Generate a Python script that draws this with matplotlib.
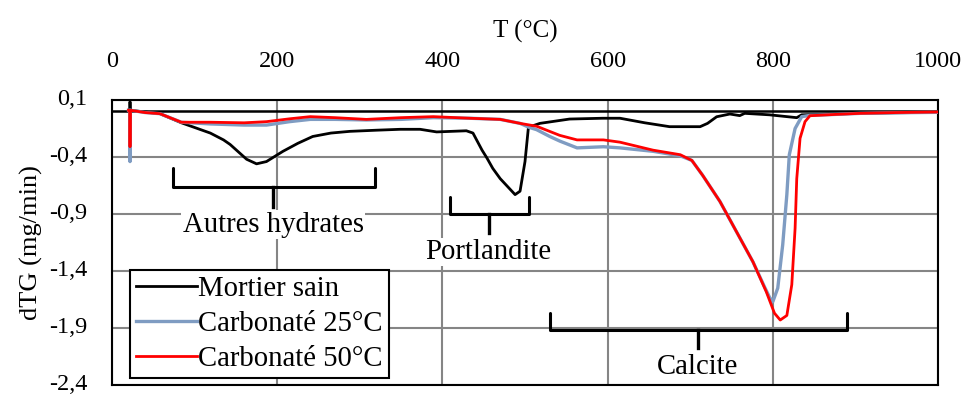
import matplotlib
matplotlib.use("Agg")
import matplotlib.pyplot as plt
from matplotlib.ticker import FixedLocator, FuncFormatter
from matplotlib.transforms import ScaledTranslation

# ---------------- data ----------------
t_sain = [20, 21.5, 21.8, 22.2, 40, 58, 84, 119, 135, 143, 163, 175, 187, 207, 225,
          243, 265, 288, 320, 349, 373, 393, 429, 437, 448, 454, 461, 470, 479, 488,
          494, 500, 504, 508, 518, 554, 594, 615, 645, 675, 712, 721, 732, 748, 760,
          766, 796, 829, 835, 870, 906, 950, 1000]
y_sain = [0.01, 0.01, 0.085, 0.01, -0.005, -0.02, -0.10, -0.19, -0.25, -0.29, -0.42, -0.46,
          -0.44, -0.35, -0.28, -0.22, -0.19, -0.175, -0.165, -0.157, -0.157, -0.18, -0.17,
          -0.19, -0.34, -0.41, -0.50, -0.59, -0.66, -0.73, -0.70, -0.44, -0.15, -0.13,
          -0.105, -0.067, -0.06, -0.06, -0.10, -0.134, -0.134, -0.105, -0.047, -0.023,
          -0.037, -0.017, -0.03, -0.055, -0.03, -0.024, -0.017, -0.012, -0.008]

t_c25 = [20, 21.5, 21.8, 22.2, 40, 58, 84, 119, 160, 187, 215, 240, 270, 308, 350, 389,
         433, 470, 494, 505, 514, 530, 542, 563, 595, 615, 655, 688, 702, 715, 736, 756,
         776, 790, 796, 800, 806, 812, 817, 820, 827, 835, 845, 877, 906, 950, 1000]
y_c25 = [0.01, 0.01, -0.44, 0.01, -0.01, -0.02, -0.095, -0.11, -0.12, -0.12, -0.09,
         -0.07, -0.07, -0.075, -0.07, -0.055, -0.06, -0.07, -0.105, -0.14, -0.16, -0.22,
         -0.26, -0.32, -0.31, -0.32, -0.35, -0.39, -0.43, -0.56, -0.79, -1.055, -1.32,
         -1.54, -1.63, -1.67, -1.55, -1.17, -0.73, -0.38, -0.15, -0.046, -0.035, -0.026,
         -0.017, -0.012, -0.008]

t_c50 = [20, 21.5, 21.8, 22.2, 40, 58, 84, 119, 160, 187, 215, 240, 270, 308, 350, 389,
         433, 470, 494, 514, 542, 563, 595, 615, 655, 688, 702, 715, 736, 756, 776, 792,
         802, 809, 817, 823, 827, 829, 833, 839, 845, 877, 906, 950, 1000]
y_c50 = [0.01, 0.01, -0.31, 0.01, -0.01, -0.02, -0.095, -0.095, -0.10, -0.09, -0.065,
         -0.046, -0.055, -0.07, -0.055, -0.046, -0.06, -0.07, -0.105, -0.13, -0.21, -0.25,
         -0.25, -0.27, -0.34, -0.38, -0.43, -0.56, -0.79, -1.055, -1.32, -1.58, -1.77,
         -1.83, -1.79, -1.52, -1.025, -0.59, -0.236, -0.09, -0.038, -0.026, -0.017,
         -0.01, -0.005]

series_labels = ["Mortier sain", "Carbonaté 25°C", "Carbonaté 50°C"]
x_ticks = [0, 200, 400, 600, 800, 1000]
y_ticks = [0.1, -0.4, -0.9, -1.4, -1.9, -2.4]

# annotation braces
brace_labels = ["Autres hydrates", "Portlandite", "Calcite"]
brace_left = [73.5, 409, 530]
brace_right = [318, 505, 890]
brace_centre = [195, 456, 709]
brace_top = [-0.497, -0.75, -1.766]
brace_bottom = [-0.663, -0.90, -1.918]
brace_tip = [-0.84, -1.067, -2.075]
label_y = [-0.995, -1.233, -2.24]

# ---------------- styling / layout ----------------
FONT = ["Liberation Serif", "DejaVu Serif"]
plt.rcParams["font.family"] = FONT

fig = plt.figure(figsize=(9.66, 3.94), dpi=100)
ax = fig.add_axes([112 / 966, 1 - 385 / 394, 826 / 966, 285 / 394])

ax.plot(t_sain, y_sain, color="black", lw=2.0, label=series_labels[0], zorder=3)
ax.plot(t_c25, y_c25, color="#7f9cc2", lw=2.4, label=series_labels[1], zorder=4)
ax.plot(t_c50, y_c50, color="#ff0000", lw=2.0, label=series_labels[2], zorder=5)

ax.set_xlim(0, 1000)
ax.set_ylim(-2.4, 0.1)
ax.axhline(0, color="black", lw=1.8, zorder=2)

ax.xaxis.tick_top()
ax.xaxis.set_label_position("top")
ax.xaxis.set_major_locator(FixedLocator(x_ticks))
ax.yaxis.set_major_locator(FixedLocator(y_ticks))
ax.yaxis.set_major_formatter(FuncFormatter(lambda v, p: f"{v:.1f}".replace(".", ",").replace("\u2212", "-")))
ax.tick_params(axis="x", length=0, pad=20, labelsize=17.5)
ax.tick_params(axis="y", length=0, pad=18, labelsize=17.5)
ax.set_xlabel("T (°C)", fontsize=18, labelpad=10)
ax.set_ylabel("dTG (mg/min)", fontsize=19, labelpad=4)

ax.grid(True, color="#858585", lw=1.5, zorder=1)
for s in ax.spines.values():
    s.set_color("black")
    s.set_linewidth(1.5)

# nudge y tick labels up slightly so the lowest one fits
shift = ScaledTranslation(0, 3 / 100, fig.dpi_scale_trans)
for tick in ax.yaxis.get_major_ticks(len(y_ticks)):
    tick.label1.set_transform(tick.label1.get_transform() + shift)

for lab, l, r, c, tp, bt, tip, ly in zip(brace_labels, brace_left, brace_right, brace_centre,
                                         brace_top, brace_bottom, brace_tip, label_y):
    ax.plot([l, l, r, r], [tp, bt, bt, tp], color="black", lw=2.2, zorder=6,
            solid_joinstyle="round", solid_capstyle="round", clip_on=False)
    ax.plot([c, c], [bt, tip], color="black", lw=2.4, zorder=6, clip_on=False)
    ax.text(c, ly, lab, ha="center", va="center", fontsize=20.7, zorder=7,
            bbox=dict(facecolor="white", edgecolor="none", pad=1))

leg = ax.legend(loc="lower left", bbox_to_anchor=(0.0218, 0.0246), borderaxespad=0,
                fontsize=20.7, handlelength=2.1, handletextpad=0.05, labelspacing=0.3,
                borderpad=0.22, frameon=True, fancybox=False, framealpha=1)
leg.get_frame().set_edgecolor("black")
leg.get_frame().set_linewidth(1.5)
leg.set_zorder(10)

fig.savefig("out.png", dpi=100)
